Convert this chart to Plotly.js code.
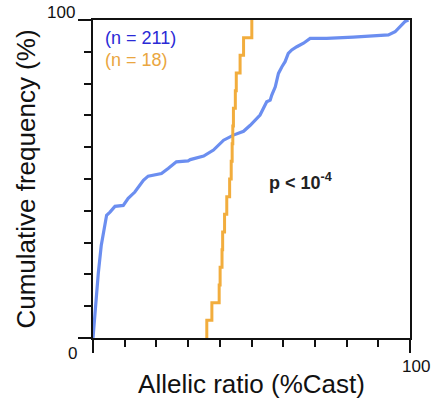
<!DOCTYPE html>
<html>
<head>
<meta charset="utf-8">
<script src="https://cdn.plot.ly/plotly-3.0.1.min.js"></script>
<style>html,body{margin:0;padding:0;background:#fff;}#chart{width:437px;height:410px;}</style>
</head>
<body>
<div id="chart"></div>
<script>
// Blue series (n = 211): traced cumulative curve
const blueX = [0, 0.63, 1.04, 1.67, 2.6, 3.47, 4.29, 5.36, 6.93, 9.55, 11.1, 13.2, 15.9, 17.4, 19.5, 21.6, 23.7, 26.3, 30.0, 30.7, 34.9, 38.0, 41.2, 44.3, 47.5, 49.6, 52.7, 54.8, 55.9, 56.4, 57.5, 58.5, 59.6, 60.6, 61.6, 62.7, 64.3, 66.4, 68.5, 73.7, 82.1, 93.2, 95.3, 96.8, 98.4, 99.5];
const blueY = [0, 8.7, 11.8, 20.3, 29.1, 33.9, 38.6, 39.6, 41.4, 41.7, 43.9, 45.9, 49.6, 50.9, 51.4, 51.7, 53.3, 55.4, 55.7, 56.1, 57.2, 59.1, 62.2, 63.8, 65.0, 66.9, 70.1, 74.3, 74.8, 76.4, 79.0, 83.2, 85.3, 86.9, 89.5, 90.6, 91.6, 92.7, 94.2, 94.2, 94.6, 95.3, 96.3, 97.9, 99.5, 100];

// Orange series (n = 18): step ECDF
const orangeX = [35.9, 35.9, 37.5, 39.8, 40.1, 40.7, 40.9, 41.5, 42.2, 43.1, 43.6, 43.9, 44.1, 44.3, 44.9, 45.2, 46.4, 47.5, 50.1];
const orangeY = [0, 5.56, 11.11, 16.67, 22.22, 27.78, 33.33, 38.89, 44.44, 50.0, 55.56, 61.11, 66.67, 72.22, 77.78, 83.33, 88.89, 94.44, 100];

const legendLabels = ["(n = 211)", "(n = 18)"];
const pText = "<b>p &lt; 10<sup>-4</sup></b>";
const xTitle = "Allelic ratio (%Cast)";
const yTitle = "Cumulative frequency (%)";

const font = "Arial, 'Liberation Sans', sans-serif";

const traces = [
  {x: blueX, y: blueY, type: 'scatter', mode: 'lines', line: {color: '#6b8ef0', width: 3.2}, hoverinfo: 'skip'},
  {x: orangeX, y: orangeY, type: 'scatter', mode: 'lines', line: {color: '#f2ad3d', width: 3, shape: 'hv'}, hoverinfo: 'skip'}
];

const axisCommon = {
  range: [0, 100], showgrid: false, zeroline: false,
  showline: true, linecolor: '#111', linewidth: 2, mirror: true,
  ticks: 'outside', tickcolor: '#111', tickwidth: 2, ticklen: 13,
  tickmode: 'array', tickvals: [0, 100], showticklabels: false,
  minor: {tickmode: 'linear', tick0: 0, dtick: 10, ticks: 'outside', ticklen: 7, tickwidth: 2, tickcolor: '#111'},
  fixedrange: true
};

const layout = {
  width: 437, height: 410,
  margin: {l: 93, r: 27, t: 20, b: 72},
  paper_bgcolor: '#fff', plot_bgcolor: '#fff',
  showlegend: false,
  font: {family: font, color: '#111'},
  xaxis: Object.assign({}, axisCommon, {title: {text: xTitle, font: {size: 26, color: '#111'}, standoff: 23}}),
  yaxis: Object.assign({}, axisCommon, {title: {text: yTitle, font: {size: 26, color: '#111'}, standoff: 35}}),
  annotations: [
    {xref: 'x', yref: 'y', x: 3.2, y: 94.3, xanchor: 'left', yanchor: 'middle', text: legendLabels[0], showarrow: false, font: {size: 18, color: '#2a2ad6', family: font}},
    {xref: 'x', yref: 'y', x: 3.2, y: 87.4, xanchor: 'left', yanchor: 'middle', text: legendLabels[1], showarrow: false, font: {size: 18, color: '#eaa640', family: font}},
    {xref: 'x', yref: 'y', x: 65.3, y: 49.3, xanchor: 'center', yanchor: 'middle', text: pText, showarrow: false, font: {size: 18, color: '#222', family: font}},
    {xref: 'paper', yref: 'paper', x: -0.045, y: -0.05, xanchor: 'right', yanchor: 'middle', text: '0', showarrow: false, font: {size: 17, color: '#111', family: font}},
    {xref: 'paper', yref: 'paper', x: 1.02, y: -0.09, xanchor: 'center', yanchor: 'middle', text: '100', showarrow: false, font: {size: 17, color: '#111', family: font}},
    {xref: 'paper', yref: 'paper', x: -0.05, y: 1.025, xanchor: 'right', yanchor: 'middle', text: '100', showarrow: false, font: {size: 17, color: '#111', family: font}}
  ]
};

Plotly.newPlot('chart', traces, layout, {displayModeBar: false, staticPlot: true});
</script>
</body>
</html>
